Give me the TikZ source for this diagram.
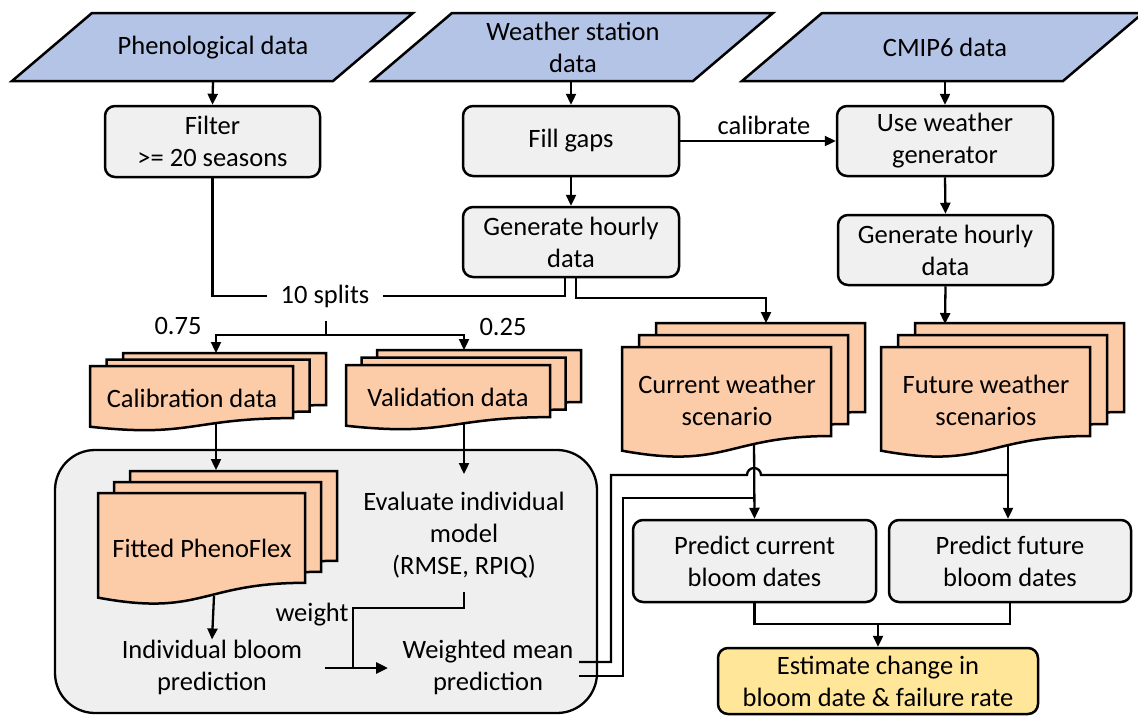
\documentclass[tikz,border=0pt]{standalone}
\usepackage{fontspec}
\setmainfont{Carlito}
\usetikzlibrary{arrows.meta}
\definecolor{parac}{HTML}{B4C4E7}
\definecolor{docc}{HTML}{FCCBA8}
\definecolor{boxg}{HTML}{F0F0F0}
\definecolor{contg}{HTML}{EFEFEF}
\definecolor{yel}{HTML}{FFE699}
\newcommand\onedoc[4]{\path[docst] ({#1},{#2}) -- ({#1+#3},{#2}) -- ({#1+#3},{#2+0.802*#4}) .. controls ({#1+0.5*#3},{#2+0.802*#4}) and ({#1+0.5*#3},{#2+1.107*#4}) .. ({#1},{#2+0.934*#4}) -- cycle;}
\newcommand\docstack[6]{\onedoc{#1+2*#5}{#2-2*#6}{#3}{#4}\onedoc{#1+#5}{#2-#6}{#3}{#4}\onedoc{#1}{#2}{#3}{#4}}
\newcommand\paragram[3]{\path[parast] ({#1},#2) -- ({#1+321},#2) -- ({#1+241},{#2+68}) -- ({#1-80},{#2+68}) -- cycle;}
\begin{document}
\begin{tikzpicture}[x=1pt,y=-1pt,font=\fontsize{26.5}{32}\selectfont,
  ln/.style={line width=2.3pt},
  arr/.style={line width=2.3pt,-{Triangle[length=11pt,width=10pt]}},
  box/.style={draw,line width=2.5pt,rounded corners=10pt,fill=boxg,align=center,inner sep=0pt},
  txt/.style={align=center,inner sep=0pt},
  docst/.style={draw,line width=2.5pt,fill=docc,line join=miter},
  parast/.style={draw,line width=2.5pt,fill=parac}]
\useasboundingbox (0,0) rectangle (1138,716);

% container
\draw[line width=2.3pt,fill=contg,rounded corners=40pt] (55,450) rectangle (597,713);

% input parallelograms
\paragram{92}{13}{}
\paragram{452}{13}{}
\paragram{822}{13}{}
\node[txt] (phen) at (213,48) {Phenological data};
\node[txt] (wsd) at (573,47) {Weather station\\data};
\node[txt] (cmip) at (945,47) {CMIP6 data};
\coordinate (phenB) at (213,81);
\coordinate (wsdB) at (571,81);
\coordinate (cmipB) at (945,81);

% process boxes
\node[box,minimum width=215pt,minimum height=71pt] (filter) at (212.5,141.5) {Filter\\>= 20 seasons};
\node[box,minimum width=216pt,minimum height=70pt] (fill) at (571,141) {Fill gaps};
\node[box,minimum width=216pt,minimum height=70pt] (genL) at (571,242) {Generate hourly\\data};
\node[box,minimum width=216pt,minimum height=70pt] (usew) at (945,141) {Use weather\\generator};
\node[box,minimum width=215pt,minimum height=70pt] (genR) at (945.5,250) {Generate hourly\\data};
\node[box,minimum width=243pt,minimum height=82pt] (predC) at (754.5,561) {Predict current\\bloom dates};
\node[box,minimum width=242pt,minimum height=82pt] (predF) at (1010,561) {Predict future\\bloom dates};
\node[box,fill=yel,minimum width=320pt,minimum height=66pt] (est) at (878,681) {Estimate change in\\bloom date \& failure rate};

% top arrows
\draw[arr] (phenB) -- (filter.north);
\draw[arr] (wsdB) -- (fill.north);
\draw[arr] (cmipB) -- (usew.north);
\draw[arr] (fill.south) -- (genL.north);
\draw[arr] (usew.south) -- (genR.north);
\draw[arr] (fill.east) -- (usew.west);
\node[txt] (calib) at (764,125) {calibrate};

% splits
\node[txt,inner xsep=14pt] (splits) at (325,296) {10 splits};
\draw[ln] (filter.south) |- (splits.west);
\draw[ln] ([xshift=-6pt]genL.south) |- (splits.east);
\coordinate (curTop) at (766,323);
\coordinate (futTop) at (945,324);
\draw[arr] ([xshift=5pt]genL.south) -- ++(0,20) -| (curTop);
\draw[arr] (genR.south) -- (futTop);
\coordinate (tick) at (326,321);
\coordinate (tickB) at (326,335);
\coordinate (calTop) at (216,353);
\coordinate (valTop) at (464,350);
\draw[line width=2.8pt] (tick) -- (tickB);
\draw[arr] (tickB) -| (calTop);
\draw[arr] (tickB) -| (valTop);
\node[txt] (p75) at (178,326) {0.75};
\node[txt] (p25) at (503,327) {0.25};

% connectors inside container
\coordinate (calB) at (216,424);
\coordinate (fitTop) at (216,470);
\coordinate (valB) at (464,424);
\coordinate (evalTop) at (464,474);
\draw[arr] (calB) -- (fitTop);
\draw[arr] (valB) -- (evalTop);
\coordinate (fitB) at (214,596);
\node[txt] (indiv) at (212,667) {Individual bloom\\prediction};
\node[txt] (wmean) at (488,667) {Weighted mean\\prediction};
\node[txt] (eval) at (464,535) {Evaluate individual\\model\\(RMSE, RPIQ)};
\draw[arr] (fitB) -- (indiv.north);
\coordinate (evalB) at (464,592);
\coordinate (wj) at (353,608);
\coordinate (wa) at (325,668);
\coordinate (wb) at (388,668);
\draw[ln] (evalB) |- (wj) -- (wj |- wa);
\draw[line width=2.8pt,-{Triangle[length=12pt,width=11pt]}] (wa) -- (wb);
\node[txt] (weight) at (312,615) {weight};

% outputs to prediction boxes
\coordinate (curB) at (754,440);
\coordinate (futB) at (1008,436);
\draw[arr] (curB) -- (predC.north);
\draw[arr] (futB) -- (futB |- predF.north);
\coordinate (wm1) at (579,662);
\coordinate (wm2) at (579,676);
\draw[ln] (wm1) -- (611,662) -- (611,475) -- (747,475) arc (180:360:7) -- (1008,475);
\draw[ln] (wm2) -- (623,676) -- (623,498) -- (754,498);
\coordinate (ej) at (878,624);
\draw[ln] (predC.south) |- (ej);
\draw[ln] (predF.south) |- (ej);
\draw[arr] (ej) -- (est.north);

% document stacks
\docstack{90}{366}{203}{65}{16.5}{6.5}
\docstack{346}{365}{204}{65}{15.5}{7.5}
\docstack{98}{493}{207}{112}{16}{11}
\docstack{622}{347}{209}{111}{17}{12}
\docstack{881}{347}{209}{111}{17}{12}
\node[txt] (cal) at (192,398) {Calibration data};
\node[txt] (val) at (448,397) {Validation data};
\node[txt] (fit) at (202,548) {Fitted PhenoFlex};
\node[txt] (cur) at (727,400) {Current weather\\scenario};
\node[txt] (fut) at (986,400) {Future weather\\scenarios};
\end{tikzpicture}
\end{document}
